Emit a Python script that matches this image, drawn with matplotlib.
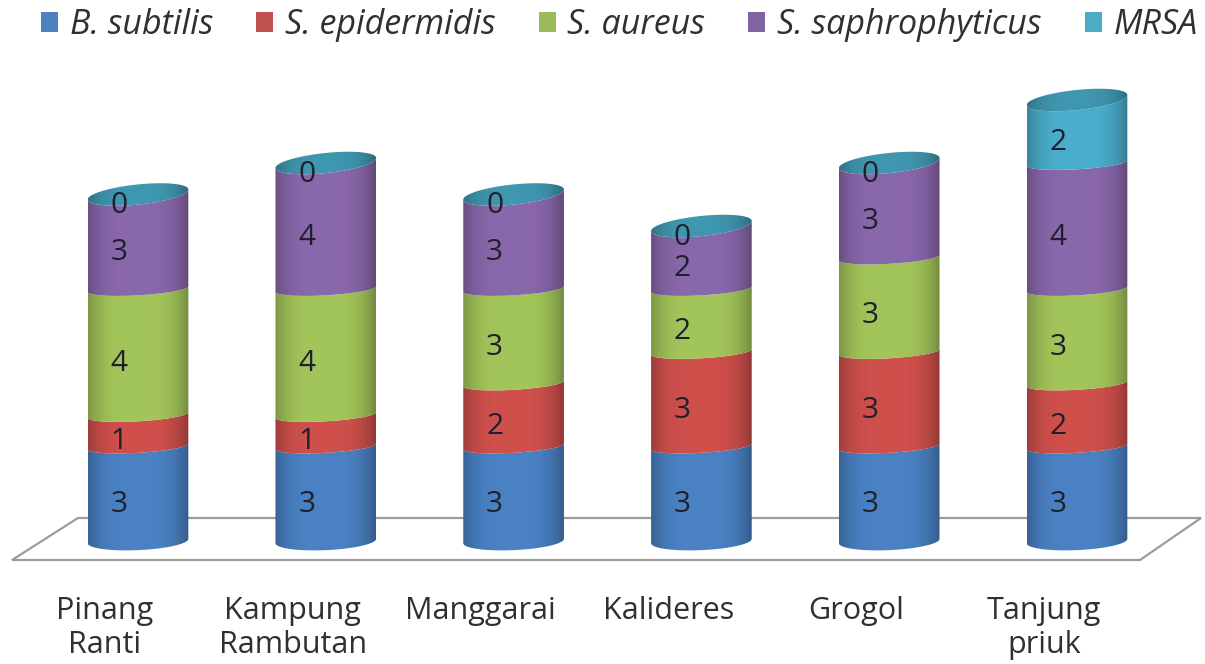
import numpy as np
import matplotlib
matplotlib.use('Agg')
import matplotlib.pyplot as plt
from matplotlib.patches import Polygon, Patch
from matplotlib.transforms import ScaledTranslation

sites = ['Pinang\nRanti', 'Kampung\nRambutan', 'Manggarai', 'Kalideres', 'Grogol', 'Tanjung\npriuk']
b_subtilis = [3, 3, 3, 3, 3, 3]
s_epidermidis = [1, 1, 2, 3, 3, 2]
s_aureus = [4, 4, 3, 2, 3, 3]
s_saphro = [3, 4, 3, 2, 3, 4]
mrsa = [0, 0, 0, 0, 0, 2]
names = ['B. subtilis', 'S. epidermidis', 'S. aureus', 'S. saphrophyticus', 'MRSA']
colors = ['#4a82c4', '#d0504c', '#a3c65a', '#8a68ac', '#4aafcc']
legend_colors = ['#4f81bd', '#c0504d', '#9bbb59', '#8064a2', '#4bacc6']

W, H = 1205, 664
plt.rcParams['font.family'] = ['Open Sans', 'DejaVu Sans']
fig = plt.figure(figsize=(W / 100, H / 100), dpi=100)
# axes stop just under the floor, tick labels hang below it
ax = fig.add_axes([0, (H - 575) / H, 1, 575 / H])
ax.patch.set_visible(False)

hw = 0.268
series = [b_subtilis, s_epidermidis, s_aureus, s_saphro, mrsa]


def arc(cx, v, ry, tilt, upper=False):
    # front (or back) edge of a slightly tilted ellipse, right to left
    th = np.linspace(0, np.pi, 60)
    s = 1 if upper else -1
    return np.column_stack([cx + hw * np.cos(th), v + tilt * np.cos(th) + s * ry * np.sin(th)])


def shaded(poly, cx, y0, y1, col, k=1.0):
    x = np.linspace(-1, 1, 120)
    shade = (1 - 0.27 * np.abs(x + 0.03) ** 3.4) * k
    rgb = np.array(matplotlib.colors.to_rgb(col))
    img = np.clip(shade[None, :, None] * rgb, 0, 1)
    im = ax.imshow(img, extent=[cx - hw, cx + hw, y0, y1], aspect='auto', zorder=3, interpolation='bilinear')
    p = Polygon(poly, closed=True, transform=ax.transData)
    im.set_clip_path(p)


for i in range(len(sites)):
    base = 0
    for j, vals in enumerate(series):
        v = vals[i]
        top = base + v
        total = sum(s[i] for s in series)
        if v > 0:
            low_ry, low_tilt = (0.29, 0.07) if base == 0 else (0.2, 0.09)
            up_ry, up_tilt = (0.32, 0.16) if top == total else (0.2, 0.09)
            low = arc(i, base, low_ry, low_tilt)
            up = arc(i, top, up_ry, up_tilt)
            poly = np.vstack([low[::-1], up])
            shaded(poly, i, base - 1, top + 1, colors[j])
        ax.annotate(str(v), (i, base + v / 2), xytext=(-13.7, -8.0), textcoords='offset points',
                    ha='center', va='center', fontsize=21.5, color='#20202c', zorder=6)
        base = top
    # lid of the cylinder, takes the colour of the last series
    lid = np.vstack([arc(i, base, 0.32, 0.16), arc(i, base, 0.32, 0.16, upper=True)[::-1]])
    shaded(lid, i, base - 1, base + 1, colors[4], k=0.86)

# floor of the 3d chart
floor = np.array([[12, 560], [78, 518], [1201, 518], [1140, 560]], dtype=float)
floor[:, 0] /= W
floor[:, 1] = 1 - floor[:, 1] / H
ax.add_patch(Polygon(floor, closed=True, fill=False, edgecolor='#9c9c9c', lw=1.6,
                     transform=fig.transFigure, clip_on=False, zorder=1))

ax.set_xlim(-138 / 187.8, (W - 138) / 187.8)
ax.set_ylim((541 - 575) / 31.5, 541 / 31.5)
ax.set_xticks(range(len(sites)))
ax.set_xticklabels(sites, fontsize=22, color='#303030', linespacing=1.18)
ax.tick_params(axis='x', length=0, pad=15)
shift = ScaledTranslation(-33 / 100, 0, fig.dpi_scale_trans)
for lab in ax.get_xticklabels():
    lab.set_transform(lab.get_transform() + shift)
ax.set_yticks([])
for s in ax.spines.values():
    s.set_visible(False)

handles = [Patch(facecolor=c, edgecolor='none') for c in legend_colors]
leg = ax.legend(handles, names, loc='center left', bbox_to_anchor=(41 / W, 1 - 25 / H),
                bbox_transform=fig.transFigure, ncol=5, frameon=False, borderpad=0, borderaxespad=0,
                handlelength=0.5, handleheight=0.5, handletextpad=0.34, columnspacing=1.27,
                prop={'size': 24.5, 'style': 'italic'})
for t in leg.get_texts():
    t.set_color('#303030')

fig.savefig('out.png', dpi=100)
